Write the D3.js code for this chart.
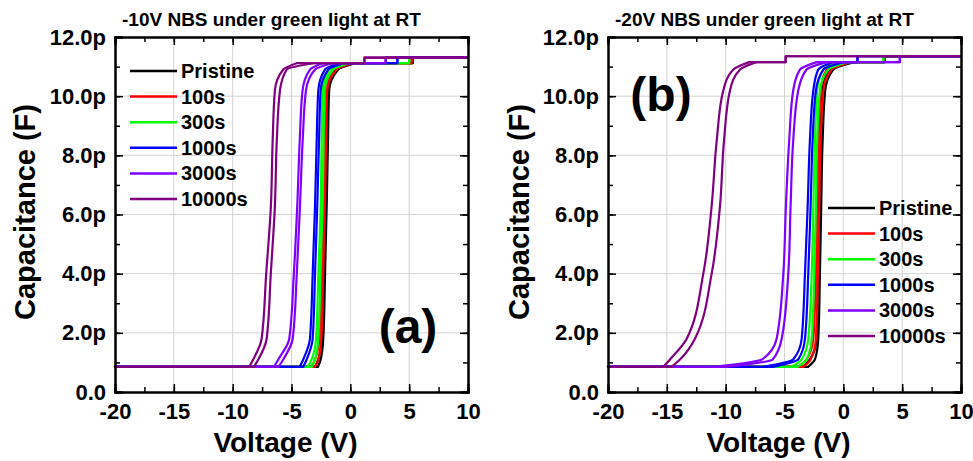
<!DOCTYPE html>
<html>
<head>
<meta charset="utf-8">
<script src="https://cdn.jsdelivr.net/npm/d3@7"></script>
<style>
  body { margin: 0; background: #fff; }
  text { font-family: "Liberation Sans", Arial, sans-serif; font-weight: bold; fill: #000; }
</style>
</head>
<body>
<div id="plot"></div>
<script>
const svgWidth = 973;
const svgHeight = 461;

// series
const seriesNames = ["Pristine", "100s", "300s", "1000s", "3000s", "10000s"];
const seriesColors = ["#000000", "#ff0000", "#00ff00", "#0000ff", "#8000ff", "#800080"];

// ticks
const xTicks = [-20, -15, -10, -5, 0, 5, 10];
const yTicks = [0, 2, 4, 6, 8, 10, 12];
const yTickLabels = ["0.0", "2.0p", "4.0p", "6.0p", "8.0p", "10.0p", "12.0p"];

// capacitance levels (pF) at which the sweep voltage was read
// last level = top plateau, its voltage = where the sweep steps up to it
const capLevelsA = [0.85, 1.1, 1.8, 4.0, 6.3, 8.5, 10.2, 10.9, 11.12, 11.3];
const capLevelsB = [0.85, 1.1, 1.8, 4.0, 6.3, 8.5, 10.2, 10.9, 11.15, 11.35];

// (a) -10V NBS : voltage at each level, left and right branch of the loop
const voltsA_left = [
  [-3.0, -2.72, -2.44, -2.3, -2.16, -2.05, -1.94, -1.3, 0.0, 5.3],
  [-3.3, -3.0, -2.64, -2.47, -2.3, -2.23, -2.16, -1.45, -0.2, 5.2],
  [-3.6, -3.29, -2.92, -2.72, -2.52, -2.44, -2.36, -1.73, -0.5, 5.0],
  [-4.3, -4.0, -3.43, -3.2, -3.0, -2.86, -2.72, -2.16, -0.9, 4.0],
  [-6.5, -6.12, -5.19, -4.8, -4.51, -4.3, -4.06, -3.43, -2.3, 3.0],
  [-8.6, -8.25, -7.54, -7.15, -6.75, -6.6, -6.41, -5.7, -4.5, 1.2]
];
const voltsA_right = [
  [-2.75, -2.52, -2.3, -2.15, -2.01, -1.9, -1.8, -1.03, 0.5, 5.3],
  [-3.0, -2.72, -2.47, -2.31, -2.16, -2.06, -1.96, -1.17, 0.3, 5.2],
  [-3.3, -3.0, -2.72, -2.54, -2.36, -2.27, -2.19, -1.45, 0.0, 5.0],
  [-4.0, -3.71, -3.2, -3.0, -2.81, -2.66, -2.52, -1.88, -0.5, 4.0],
  [-6.1, -5.7, -4.9, -4.55, -4.28, -4.05, -3.77, -3.0, -1.5, 3.0],
  [-8.2, -7.82, -7.11, -6.76, -6.41, -6.25, -5.98, -5.41, -3.0, 1.2]
];

// (b) -20V NBS
const voltsB_left = [
  [-3.4, -2.84, -2.27, -2.16, -2.05, -1.93, -1.76, -1.2, 0.2, 3.5],
  [-3.8, -3.12, -2.55, -2.33, -2.22, -2.1, -1.93, -1.42, 0.0, 3.4],
  [-4.4, -3.54, -2.98, -2.69, -2.55, -2.41, -2.22, -1.7, -0.4, 3.4],
  [-6.8, -4.26, -3.54, -3.26, -3.03, -2.84, -2.55, -2.13, -0.86, 1.2],
  [-11.0, -6.9, -5.67, -5.1, -4.88, -4.6, -4.26, -3.69, -2.27, 4.8],
  [-15.3, -14.73, -13.31, -11.9, -11.19, -10.76, -10.2, -9.35, -8.0, -4.9]
];
const voltsB_right = [
  [-3.0, -2.41, -2.13, -1.99, -1.88, -1.76, -1.54, -0.86, 0.9, 3.5],
  [-3.4, -2.78, -2.33, -2.16, -2.05, -1.93, -1.7, -1.0, 0.6, 3.4],
  [-3.9, -3.12, -2.69, -2.47, -2.33, -2.22, -1.99, -1.28, 0.3, 3.4],
  [-6.0, -3.83, -3.26, -2.98, -2.78, -2.61, -2.33, -1.7, 0.0, 1.2],
  [-10.0, -6.0, -5.24, -4.68, -4.48, -4.26, -3.83, -3.12, -1.42, 4.8],
  [-14.6, -13.88, -12.61, -11.19, -10.48, -10.14, -9.63, -8.78, -7.4, -4.9]
];

var svg = d3.select("#plot")
  .append("svg")
  .attr("width", svgWidth)
  .attr("height", svgHeight);

const plotW = 353, plotH = 355, plotTop = 37;

var panels = [
  { left: 115, title: "-10V NBS under green light at RT", tag: "(a)", tagX: 408, tagY: 343,
    levels: capLevelsA, vl: voltsA_left, vr: voltsA_right, legX: 130, legY: 71, ylabX: 25 },
  { left: 608, title: "-20V NBS under green light at RT", tag: "(b)", tagX: 661, tagY: 111,
    levels: capLevelsB, vl: voltsB_left, vr: voltsB_right, legX: 828, legY: 208, ylabX: 519 }
];

panels.forEach(function(p) {
  var g = svg.append("g").attr("transform", "translate(" + p.left + "," + plotTop + ")");

  var x = d3.scaleLinear().domain([-20, 10]).range([0, plotW]);
  var y = d3.scaleLinear().domain([0, 12]).range([plotH, 0]);

  // grid
  g.append("g").selectAll("line")
    .data(xTicks.slice(1, -1))
    .enter().append("line")
      .attr("x1", d => x(d)).attr("x2", d => x(d))
      .attr("y1", 0).attr("y2", plotH)
      .attr("stroke", "#d4d4d4").attr("stroke-width", 1);
  g.append("g").selectAll("line")
    .data(yTicks.slice(1, -1))
    .enter().append("line")
      .attr("y1", d => y(d)).attr("y2", d => y(d))
      .attr("x1", 0).attr("x2", plotW)
      .attr("stroke", "#d4d4d4").attr("stroke-width", 1);

  // curves: flat base, smooth rise, flat top with a small step
  var smooth = d3.line().curve(d3.curveMonotoneY)
    .x(d => x(d[0])).y(d => y(d[1]));
  var straight = d3.line()
    .x(d => x(d[0])).y(d => y(d[1]));

  seriesNames.forEach(function(name, i) {
    [p.vl[i], p.vr[i]].forEach(function(volts) {
      var n = p.levels.length;
      var rise = volts.slice(0, n - 1).map((v, k) => [v, p.levels[k]]);
      var top = [rise[n - 2], [volts[n - 1], p.levels[n - 2]], [volts[n - 1], p.levels[n - 1]], [10, p.levels[n - 1]]];
      var base = [[-20, p.levels[0]], rise[0]];
      [[straight, base], [smooth, rise], [straight, top]].forEach(function(part) {
        g.append("path")
          .datum(part[1])
          .attr("d", part[0])
          .attr("fill", "none")
          .attr("stroke", seriesColors[i])
          .attr("stroke-width", 2.2)
          .attr("stroke-linejoin", "round")
          .attr("stroke-linecap", "round");
      });
    });
  });

  // axes, ticks inward
  var minorX = d3.range(-20, 10.01, 2.5);
  var minorY = d3.range(0, 12.01, 1);
  var ax = g.append("g").attr("class", "axes");
  ax.append("g").attr("transform", "translate(0," + plotH + ")")
    .call(d3.axisBottom(x).tickValues(minorX).tickSize(-5).tickFormat(""));
  ax.append("g")
    .call(d3.axisTop(x).tickValues(minorX).tickSize(-5).tickFormat(""));
  ax.append("g")
    .call(d3.axisLeft(y).tickValues(minorY).tickSize(-5).tickFormat(""));
  ax.append("g").attr("transform", "translate(" + plotW + ",0)")
    .call(d3.axisRight(y).tickValues(minorY).tickSize(-5).tickFormat(""));
  ax.append("g").attr("transform", "translate(0," + plotH + ")")
    .call(d3.axisBottom(x).tickValues(xTicks).tickSize(-8).tickPadding(11).tickFormat(d => String(d)));
  ax.append("g")
    .call(d3.axisTop(x).tickValues(xTicks).tickSize(-8).tickFormat(""));
  ax.append("g")
    .call(d3.axisLeft(y).tickValues(yTicks).tickSize(-8).tickPadding(9).tickFormat((d, i) => yTickLabels[i]));
  ax.append("g").attr("transform", "translate(" + plotW + ",0)")
    .call(d3.axisRight(y).tickValues(yTicks).tickSize(-8).tickFormat(""));
  ax.selectAll(".domain").attr("stroke", "#000").attr("stroke-width", 2);
  ax.selectAll(".tick line").attr("stroke", "#000").attr("stroke-width", 1.5);
  ax.selectAll(".tick text")
    .attr("fill", "#000")
    .style("font-size", "22px")
    .style("font-family", "'Liberation Sans', Arial, sans-serif")
    .style("font-weight", "bold");

  // title
  g.append("text")
    .attr("x", 7).attr("y", -11)
    .style("font-size", "19px")
    .text(p.title);

  // panel tag
  g.append("text")
    .attr("x", p.tagX - p.left).attr("y", p.tagY - plotTop)
    .attr("text-anchor", "middle")
    .style("font-size", "48px")
    .text(p.tag);

  // axis labels
  svg.append("text")
    .attr("x", p.left + plotW / 2 - 6).attr("y", 452)
    .attr("text-anchor", "middle")
    .style("font-size", "28px")
    .text("Voltage (V)");
  svg.append("text")
    .attr("transform", "translate(" + (p.ylabX + 10) + "," + 212 + ") rotate(-90)")
    .attr("text-anchor", "middle")
    .style("font-size", "29px")
    .text("Capacitance (F)");

  // legend
  var leg = svg.append("g").attr("transform", "translate(" + p.legX + "," + p.legY + ")");
  seriesNames.forEach(function(name, i) {
    leg.append("line")
      .attr("x1", 0).attr("x2", 47)
      .attr("y1", i * 25.6).attr("y2", i * 25.6)
      .attr("stroke", seriesColors[i]).attr("stroke-width", 2.5);
    leg.append("text")
      .attr("x", 51).attr("y", i * 25.6 + 7)
      .style("font-size", "20px")
      .text(name);
  });
});
</script>
</body>
</html>
